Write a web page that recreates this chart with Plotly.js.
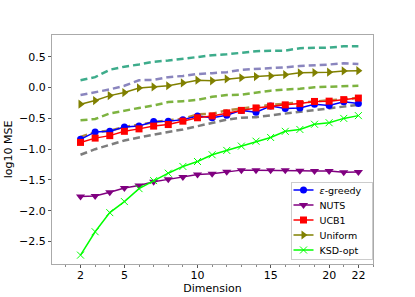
<!DOCTYPE html>
<html>
<head>
<meta charset="utf-8">
<script src="https://cdn.plot.ly/plotly-3.0.1.min.js"></script>
<style>html,body{margin:0;padding:0;background:#fff;}#chart{width:415px;height:297px;}</style>
</head>
<body>
<div id="chart"></div>
<script>
// Dimensions (plotted at evenly spaced positions)
const dims = [2,3,4,5,6,7,8,9,10,11,12,13,14,15,16,17,18,20,21,22];
const tickLabels = [2,5,10,15,20,22];

// Solid series
const epsGreedy = [-0.84,-0.72,-0.71,-0.64,-0.625,-0.55,-0.545,-0.52,-0.46,-0.49,-0.45,-0.37,-0.40,-0.30,-0.34,-0.33,-0.27,-0.29,-0.23,-0.26];
const nuts      = [-1.77,-1.76,-1.70,-1.63,-1.59,-1.53,-1.49,-1.45,-1.41,-1.40,-1.365,-1.34,-1.34,-1.34,-1.34,-1.35,-1.355,-1.355,-1.375,-1.37];
const ucb1      = [-0.89,-0.82,-0.78,-0.71,-0.67,-0.625,-0.60,-0.545,-0.49,-0.46,-0.41,-0.37,-0.33,-0.30,-0.28,-0.26,-0.225,-0.22,-0.195,-0.17];
const uniform   = [-0.27,-0.21,-0.13,-0.08,-0.005,0.01,0.03,0.075,0.12,0.11,0.14,0.16,0.18,0.19,0.21,0.24,0.245,0.25,0.27,0.275];
const ksdOpt    = [-2.72,-2.34,-2.03,-1.85,-1.64,-1.51,-1.39,-1.28,-1.20,-1.09,-1.02,-0.95,-0.87,-0.81,-0.71,-0.68,-0.595,-0.57,-0.50,-0.455];

// Dashed (unlabelled) series
const dashTeal   = [0.12,0.17,0.29,0.34,0.375,0.42,0.44,0.47,0.505,0.525,0.54,0.57,0.59,0.60,0.60,0.64,0.645,0.65,0.67,0.67];
const dashPurple = [-0.12,-0.08,-0.03,0.03,0.12,0.125,0.17,0.19,0.22,0.235,0.25,0.29,0.30,0.315,0.33,0.35,0.36,0.375,0.395,0.385];
const dashGreen  = [-0.53,-0.51,-0.42,-0.37,-0.33,-0.29,-0.235,-0.22,-0.20,-0.15,-0.12,-0.115,-0.08,-0.05,-0.03,-0.02,0.005,0.015,0.03,0.03];
const dashBrown  = [-0.80,-0.72,-0.70,-0.64,-0.60,-0.56,-0.53,-0.51,-0.435,-0.425,-0.37,-0.34,-0.305,-0.28,-0.26,-0.245,-0.22,-0.21,-0.19,-0.165];
const dashGray   = [-1.09,-1.00,-0.93,-0.86,-0.81,-0.76,-0.72,-0.68,-0.63,-0.58,-0.52,-0.49,-0.48,-0.45,-0.42,-0.40,-0.36,-0.34,-0.305,-0.28];

const xs = dims.map((d, i) => i);
const tickvals = tickLabels.map(t => dims.indexOf(t));

function dashed(y, color) {
  return {x: xs, y: y, type: 'scatter', mode: 'lines', showlegend: false, hoverinfo: 'skip',
    line: {color: color, width: 2.5, dash: '7px,4px'}, opacity: 0.85};
}
function solid(y, name, color, symbol, size, rank) {
  return {x: xs, y: y, type: 'scatter', mode: 'lines+markers', name: name, legendrank: rank,
    line: {color: color, width: 1.5}, marker: {color: color, symbol: symbol, size: size}};
}

const ksdTrace = solid(ksdOpt, 'KSD-opt', '#00ff00', 'x-thin-open', 7, 5);
ksdTrace.marker.line = {color: '#00ff00', width: 1};

const traces = [
  dashed(dashTeal, '#1b9e77'),
  dashed(dashPurple, '#7570b3'),
  dashed(dashGreen, '#66a61e'),
  dashed(dashBrown, '#a6761d'),
  dashed(dashGray, '#666666'),
  solid(uniform, 'Uniform', '#808000', 'triangle-right', 8, 4),
  solid(nuts, 'NUTS', '#800080', 'triangle-down', 8, 2),
  ksdTrace,
  solid(epsGreedy, '<i>ε</i>-greedy', '#0000ff', 'circle', 7, 1),
  solid(ucb1, 'UCB1', '#ff0000', 'square', 7, 3)
];

const layout = {
  width: 415, height: 297,
  margin: {l: 52, r: 42, t: 35, b: 33},
  paper_bgcolor: '#fff', plot_bgcolor: '#fff',
  font: {family: 'DejaVu Sans, sans-serif', size: 11, color: '#000'},
  xaxis: {
    range: [-1.95, 20.0], tickvals: tickvals, ticktext: tickLabels.map(String),
    showgrid: false, zeroline: false, showline: true, mirror: true, linecolor: '#aaaaaa', linewidth: 1,
    ticks: 'outside', ticklen: 3, tickcolor: '#555', tickfont: {size: 11}, ticklabelstandoff: -2,
    minor: {dtick: 1, tick0: 0, ticks: 'outside', ticklen: 2, tickcolor: '#888', showgrid: false},
    title: {text: 'Dimension', font: {size: 11}, standoff: 0}
  },
  yaxis: {
    range: [-2.864, 0.854], tickvals: [-2.5,-2,-1.5,-1,-0.5,0,0.5],
    ticktext: ['\u22122.5','\u22122.0','\u22121.5','\u22121.0','\u22120.5','0.0','0.5'],
    showgrid: false, zeroline: false, showline: true, mirror: true, linecolor: '#aaaaaa', linewidth: 1,
    ticks: 'outside', ticklen: 3, tickcolor: '#555', tickfont: {size: 11},
    title: {text: 'log10 MSE', font: {size: 11}, standoff: 4}
  },
  legend: {
    x: 0.99, y: 0.025, xanchor: 'right', yanchor: 'bottom',
    bgcolor: 'rgba(255,255,255,0.9)', bordercolor: '#cccccc', borderwidth: 1,
    font: {size: 9.5}, tracegroupgap: 0
  },
  showlegend: true
};

Plotly.newPlot('chart', traces, layout, {staticPlot: true, displayModeBar: false}).then(gd => {
  // compact the legend box to match the reference's tighter layout
  try {
    const leg = gd.querySelector('g.legend');
    if (!leg) return;
    const parse = s => {
      const m = /translate\(\s*([-\d.e]+)[ ,]+([-\d.e]+)/.exec(s || '');
      return m ? [parseFloat(m[1]), parseFloat(m[2])] : [0, 0];
    };
    const items = Array.from(leg.querySelectorAll('g.traces'));
    const pos = items.map(it => parse(it.getAttribute('transform')));
    const order = pos.map((p, i) => i).sort((a, b) => pos[a][1] - pos[b][1]);
    const boxW = 81, boxH = 77, step = 15, firstY = 8.5;
    order.forEach((idx, k) => items[idx].setAttribute('transform', `translate(-2,${firstY + k * step})`));
    items.forEach(it => {
      it.querySelectorAll('.legendlines path').forEach(p => p.setAttribute('d', 'M5,0h20'));
      it.querySelectorAll('.legendsymbols path').forEach(p => p.setAttribute('transform', 'translate(15,0)'));
      const t = it.querySelector('text.legendtext');
      if (t) t.setAttribute('x', 31);
    });
    const bg = leg.querySelector('rect.bg');
    if (bg) {
      bg.setAttribute('x', 0.5); bg.setAttribute('y', 0.5);
      bg.setAttribute('width', boxW); bg.setAttribute('height', boxH);
    }
    const sb = leg.querySelector('g.scrollbox');
    if (sb) sb.setAttribute('transform', 'translate(0,0)');
    leg.querySelectorAll('clipPath rect').forEach(r => { r.setAttribute('width', boxW + 10); r.setAttribute('height', boxH + 10); r.setAttribute('x', -5); r.setAttribute('y', -5); });
    leg.setAttribute('transform', 'translate(290.5,181.5)');
  } catch (e) {}
});
</script>
</body>
</html>
